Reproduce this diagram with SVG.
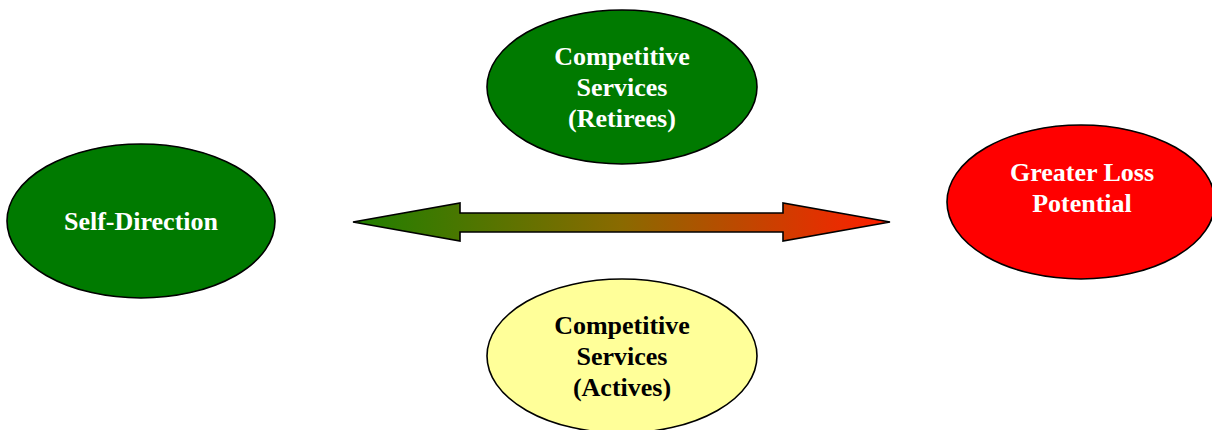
<svg xmlns="http://www.w3.org/2000/svg" width="1212" height="430" viewBox="0 0 1212 430">
  <defs>
    <linearGradient id="spectrum" x1="353" y1="0" x2="890" y2="0" gradientUnits="userSpaceOnUse">
      <stop offset="0" stop-color="#1f7f00"/>
      <stop offset="0.5" stop-color="#8a6a00"/>
      <stop offset="1" stop-color="#ff1e00"/>
    </linearGradient>
  </defs>
  <style>
    .node { stroke: #000; stroke-width: 1.6; }
    .green { fill: #007a00; }
    .red { fill: #ff0000; }
    .yellow { fill: #ffff99; }
    .label { font-family: "Liberation Serif", "Times New Roman", serif; font-weight: bold; font-size: 26px; text-anchor: middle; }
    .light { fill: #ffffff; }
    .dark { fill: #000000; }
  </style>
  <rect width="1212" height="430" fill="#ffffff"/>

  <g id="connectors">
    <path d="M353,222 L460,203 L460,213 L783,213 L783,203 L890,222 L783,241 L783,232 L460,232 L460,241 Z" fill="url(#spectrum)" stroke="#000" stroke-width="1.6" stroke-linejoin="miter"/>
  </g>

  <g id="self-direction">
    <ellipse class="node green" cx="141" cy="221" rx="134" ry="77"/>
    <text class="label light" x="141" y="230">Self-Direction</text>
  </g>

  <g id="competitive-retirees">
    <ellipse class="node green" cx="622" cy="87" rx="135" ry="77"/>
    <text class="label light" x="622" y="65">Competitive</text>
    <text class="label light" x="622" y="96">Services</text>
    <text class="label light" x="622" y="127">(Retirees)</text>
  </g>

  <g id="competitive-actives">
    <ellipse class="node yellow" cx="622" cy="356" rx="135" ry="77"/>
    <text class="label dark" x="622" y="334">Competitive</text>
    <text class="label dark" x="622" y="365">Services</text>
    <text class="label dark" x="622" y="396">(Actives)</text>
  </g>

  <g id="greater-loss">
    <ellipse class="node red" cx="1081" cy="202" rx="134" ry="77"/>
    <text class="label light" x="1082" y="181">Greater Loss</text>
    <text class="label light" x="1082" y="212">Potential</text>
  </g>
</svg>
